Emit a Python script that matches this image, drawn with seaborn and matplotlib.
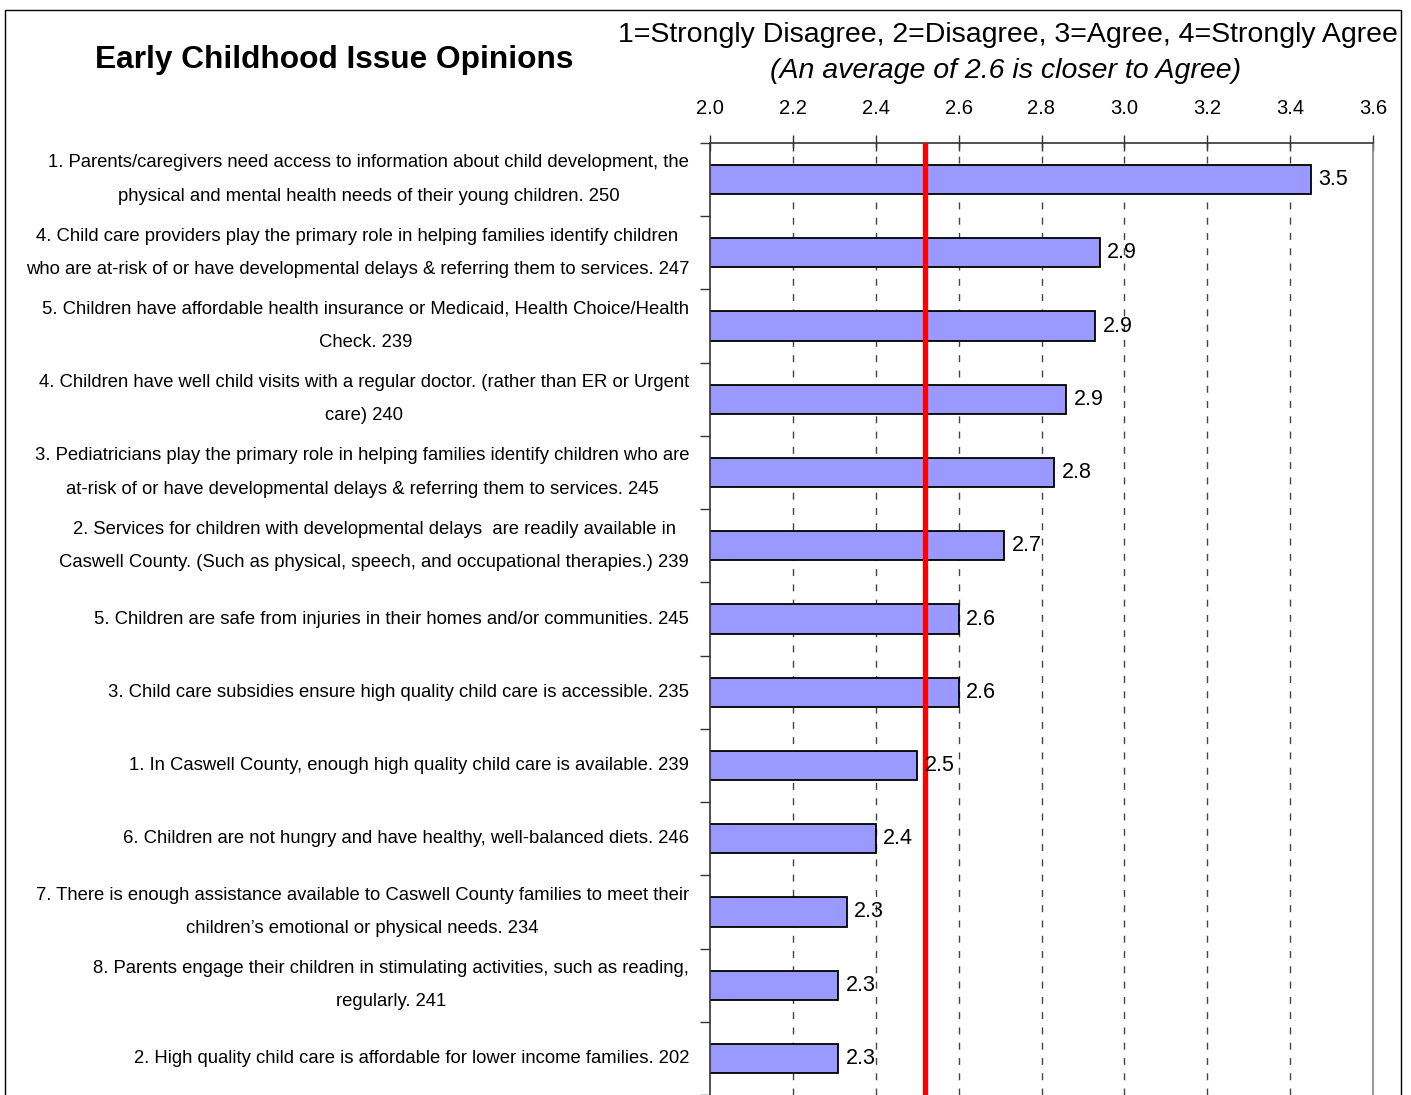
import numpy as np
import pandas as pd
import seaborn as sns
import matplotlib
matplotlib.use('Agg')
from matplotlib import pyplot as plt
from matplotlib.patches import Rectangle

# ---- data ----
statements = [
    "1. Parents/caregivers need access to information about child development, the\nphysical and mental health needs of their young children. 250",
    "4. Child care providers play the primary role in helping families identify children\nwho are at-risk of or have developmental delays & referring them to services. 247",
    "5. Children have affordable health insurance or Medicaid, Health Choice/Health\nCheck. 239",
    "4. Children have well child visits with a regular doctor. (rather than ER or Urgent\ncare) 240",
    "3. Pediatricians play the primary role in helping families identify children who are\nat-risk of or have developmental delays & referring them to services. 245",
    "2. Services for children with developmental delays  are readily available in\nCaswell County. (Such as physical, speech, and occupational therapies.) 239",
    "5. Children are safe from injuries in their homes and/or communities. 245",
    "3. Child care subsidies ensure high quality child care is accessible. 235",
    "1. In Caswell County, enough high quality child care is available. 239",
    "6. Children are not hungry and have healthy, well-balanced diets. 246",
    "7. There is enough assistance available to Caswell County families to meet their\nchildren\u2019s emotional or physical needs. 234",
    "8. Parents engage their children in stimulating activities, such as reading,\nregularly. 241",
    "2. High quality child care is affordable for lower income families. 202",
]
averages = [3.45, 2.94, 2.93, 2.86, 2.83, 2.71, 2.60, 2.60, 2.50, 2.40, 2.33, 2.31, 2.31]
overall_avg = 2.52
x_ticks = [2.0, 2.2, 2.4, 2.6, 2.8, 3.0, 3.2, 3.4, 3.6]

df = pd.DataFrame({'statement': statements, 'avg': averages})

sns.set_style('white')
plt.rcParams['font.family'] = ['Liberation Sans', 'DejaVu Sans']
plt.rcParams['text.color'] = 'black'
plt.rcParams['xtick.labelcolor'] = 'black'
plt.rcParams['ytick.labelcolor'] = 'black'

fig = plt.figure(figsize=(14.11, 10.95), dpi=100)
ax = fig.add_axes([710 / 1411, 0.0, (1373 - 710) / 1411, 1 - 143 / 1095])

sns.barplot(data=df, x='avg', y='statement', orient='h', color='#9999FF',
            saturation=1, edgecolor='black', linewidth=1.3, width=0.4, ax=ax)

ax.set_xlim(2.0, 3.6)
ax.set_ylim(len(statements) - 0.5, -0.5)
ax.set_xlabel('')
ax.set_ylabel('')

# x axis on top
ax.xaxis.tick_top()
ax.set_xticks(x_ticks)
ax.set_xticklabels([f'{t:.1f}' for t in x_ticks], fontsize=14.5)
ax.tick_params(axis='x', direction='inout', length=12, width=1, color='#333333', pad=12)

# dashed gridlines at inner ticks
for t in x_ticks[1:-1]:
    ax.axvline(t, color='#444444', linestyle=(0, (5, 6)), linewidth=1, zorder=0)

# y labels centred on bars, ticks between categories
ax.set_yticks(np.arange(len(statements)))
ax.set_yticklabels(statements, fontsize=13.3, linespacing=2.25)
for lab in ax.get_yticklabels():
    lab.set_multialignment('center')
    lab.set_verticalalignment('center')
ax.tick_params(axis='y', which='major', length=0, pad=15)
ax.set_yticks(np.arange(len(statements) + 1) - 0.5, minor=True)
ax.tick_params(axis='y', which='minor', direction='out', length=7, width=1, color='#333333', left=True)

# spines
ax.spines['top'].set_color('#333333')
ax.spines['left'].set_color('#333333')
ax.spines['right'].set_color('#888888')
ax.spines['bottom'].set_visible(False)
for s in ['top', 'left', 'right']:
    ax.spines[s].set_linewidth(1.2)

# overall average line
ax.axvline(overall_avg, color='#FF0000', linewidth=3.8, zorder=5)

# value labels
for i, v in enumerate(averages):
    ax.text(v + 0.018, i, f'{v:.1f}', va='center', ha='left', fontsize=15.5, zorder=6)

# titles
fig.text(334 / 1411, 1 - 60 / 1095, 'Early Childhood Issue Opinions',
         ha='center', va='center', fontsize=22.8, fontweight='bold')
fig.text(1008 / 1411, 1 - 35 / 1095, '1=Strongly Disagree, 2=Disagree, 3=Agree, 4=Strongly Agree',
         ha='center', va='center', fontsize=20.5)
fig.text(1006 / 1411, 1 - 71 / 1095, '(An average of 2.6 is closer to Agree)',
         ha='center', va='center', fontsize=20.5, style='italic')

# outer frame
fig.patches.append(Rectangle((5 / 1411, -0.02), 1396 / 1411, 1 - 10 / 1095 + 0.02,
                             transform=fig.transFigure, fill=False, edgecolor='black',
                             linewidth=1, clip_on=False))

fig.savefig('out.png', dpi=100)
